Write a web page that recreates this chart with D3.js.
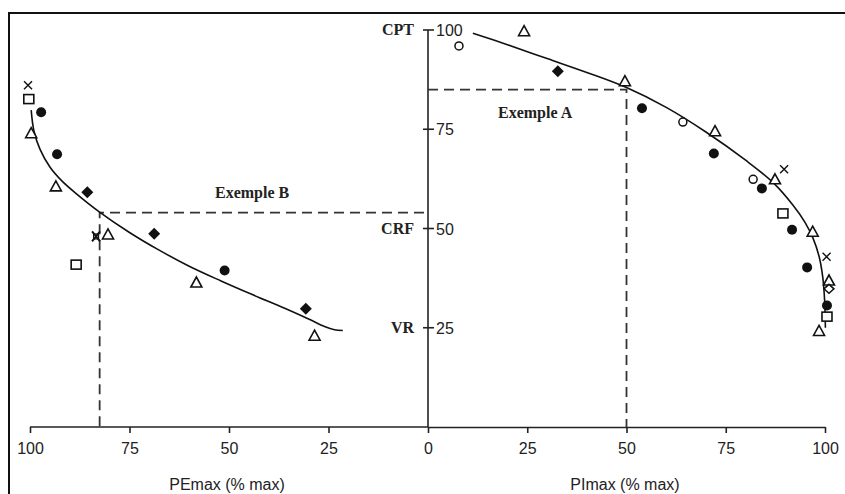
<!DOCTYPE html>
<html>
<head>
<meta charset="utf-8">
<script src="https://cdn.jsdelivr.net/npm/d3@7/dist/d3.min.js"></script>
<style>
  html, body { margin: 0; padding: 0; background: #fff; }
  svg { display: block; }
  .tick-label { font-family: "Liberation Sans", Arial, sans-serif; font-size: 16px; fill: #222; }
  .axis-title { font-family: "Liberation Sans", Arial, sans-serif; font-size: 16px; fill: #222; }
  .vol-label { font-family: "Liberation Serif", "Times New Roman", serif; font-size: 16px; font-weight: bold; fill: #222; }
  .ex-label { font-family: "Liberation Serif", "Times New Roman", serif; font-size: 16px; font-weight: bold; fill: #222; }
</style>
</head>
<body>
<svg id="chart" width="845" height="494"></svg>
<script>
// Tick values
const peTicks = [100, 75, 50, 25];
const piTicks = [0, 25, 50, 75, 100];
const volTicks = [25, 50, 75, 100];
const volNames = [["CPT", 100], ["CRF", 50], ["VR", 25]];

// Expiratory pressure (PEmax %) vs lung volume (%): fitted curve
const peCurvePE  = [99.7, 99.0, 97.5, 95.0, 92.0, 88.4, 82.6, 75.0, 68.0, 60.0, 52.0, 44.0, 36.0, 30.0, 26.0, 23.5, 21.4];
const peCurveVol = [79.8, 74.5, 70.0, 65.5, 62.0, 58.8, 54.2, 49.0, 44.8, 40.5, 36.8, 33.3, 29.9, 27.2, 25.3, 24.5, 24.3];

// Inspiratory pressure (PImax %) vs lung volume (%): fitted curve
const piCurvePI  = [11.3, 20, 30, 40, 50, 60, 70, 80, 87, 92, 95, 97, 98.5, 99.4, 99.9, 100.1];
const piCurveVol = [99.2, 96.3, 92.8, 89.3, 85.5, 80.5, 74.3, 67.2, 61.5, 55.8, 51.5, 47.5, 43.0, 38.0, 32.0, 25.0];

// Individual measurements, expiratory side
const peObsPE   = [100.5, 100.3, 97.2, 99.7, 93.2, 93.5, 85.6, 83.4, 80.4, 68.8, 88.4, 58.2, 51.1, 30.7, 28.5];
const peObsVol  = [86.1, 82.6, 79.3, 74.0, 68.7, 60.6, 59.1, 48.0, 48.5, 48.7, 40.9, 36.4, 39.4, 29.8, 23.0];
const peObsKind = ["x", "square", "dot", "tri", "dot", "tri", "diamond", "xbox", "tri", "diamond", "square", "tri", "dot", "diamond", "tri"];

// Individual measurements, inspiratory side
const piObsPI   = [7.8, 24.2, 32.7, 49.6, 53.9, 64.2, 72.3, 72.0, 81.9, 84.1, 87.4, 89.7, 89.4, 91.7, 96.9, 100.4, 95.5, 101.0, 101.0, 100.5, 100.5, 98.5];
const piObsVol  = [96.0, 99.7, 89.6, 87.1, 80.3, 76.8, 74.5, 68.9, 62.4, 60.1, 62.4, 64.9, 53.8, 49.7, 49.2, 42.9, 40.2, 36.9, 34.8, 30.6, 27.8, 24.2];
const piObsKind = ["ring", "tri", "diamond", "tri", "dot", "ring", "tri", "dot", "ring", "dot", "tri", "x", "square", "dot", "tri", "x", "dot", "tri", "odiamond", "dot", "square", "tri"];

// Worked examples: [pressure %, volume %]
const exampleA = [50, 85];
const exampleB = [82.5, 54];

const svg = d3.select("#chart");

const x0 = 428;
const xPE = d3.scaleLinear().domain([0, 100]).range([x0, 30]);
const xPI = d3.scaleLinear().domain([0, 100]).range([x0, 825]);
const y = d3.scaleLinear().domain([0, 100]).range([427, 30]);

// Frame (open on the right and bottom)
svg.append("path")
  .attr("d", "M9,494 L9,13 L845,13")
  .attr("fill", "none").attr("stroke", "#111").attr("stroke-width", 2);

// Bottom axes
function styleAxis(g) {
  g.select(".domain").attr("stroke", "#222").attr("stroke-width", 1.6);
  g.selectAll(".tick line").attr("stroke", "#222").attr("stroke-width", 1.6);
  g.selectAll(".tick text").attr("class", "tick-label").attr("dy", "0.95em");
}
svg.append("g").attr("transform", `translate(0,${y(0)})`)
  .call(d3.axisBottom(xPE).tickValues(peTicks).tickSize(6).tickSizeOuter(0).tickPadding(6))
  .call(g => g.select(".domain").attr("d", `M${xPE(100)},0H${xPE(0)}`))
  .call(styleAxis);
svg.append("g").attr("transform", `translate(0,${y(0)})`)
  .call(d3.axisBottom(xPI).tickValues(piTicks).tickSize(6).tickSizeOuter(0).tickPadding(6))
  .call(styleAxis);
svg.selectAll("g text").attr("font-family", null).attr("font-size", null);

// Vertical volume axis
svg.append("line")
  .attr("x1", x0).attr("x2", x0).attr("y1", y(100)).attr("y2", y(0))
  .attr("stroke", "#222").attr("stroke-width", 1.6);
svg.selectAll(".vtick").data(volTicks).join("line")
  .attr("x1", x0 - 5).attr("x2", x0 + 6)
  .attr("y1", d => y(d)).attr("y2", d => y(d))
  .attr("stroke", "#222").attr("stroke-width", 1.6);
svg.selectAll(".vlab").data(volTicks).join("text")
  .attr("class", "tick-label")
  .attr("x", x0 + 8).attr("y", d => y(d) + 6)
  .text(d => d);
svg.selectAll(".vname").data(volNames).join("text")
  .attr("class", "vol-label").attr("text-anchor", "end")
  .attr("x", x0 - 14).attr("y", d => y(d[1]) + 5)
  .text(d => d[0]);

// Axis titles
svg.append("text").attr("class", "axis-title").attr("text-anchor", "middle")
  .attr("x", 227).attr("y", 490).text("PEmax (% max)");
svg.append("text").attr("class", "axis-title").attr("text-anchor", "middle")
  .attr("x", 625).attr("y", 490).text("PImax (% max)");

// Dashed guides for the examples
const dash = { stroke: "#333", "stroke-width": 1.8, "stroke-dasharray": "10,6", fill: "none" };
function dashed(d) {
  const p = svg.append("path").attr("d", d);
  Object.entries(dash).forEach(([k, v]) => p.attr(k, v));
}
dashed(`M${x0},${y(exampleA[1])}H${xPI(exampleA[0])}V${y(0)}`);
dashed(`M${x0 - 4},${y(exampleB[1])}H${xPE(exampleB[0])}V${y(0)}`);
svg.append("text").attr("class", "ex-label").attr("x", 498).attr("y", 118).text("Exemple A");
svg.append("text").attr("class", "ex-label").attr("x", 215).attr("y", 198).text("Exemple B");

// Fitted curves
const line = d3.line().curve(d3.curveCatmullRom.alpha(0.5));
svg.append("path")
  .attr("d", line(peCurvePE.map((p, i) => [xPE(p), y(peCurveVol[i])])))
  .attr("fill", "none").attr("stroke", "#111").attr("stroke-width", 1.6);
svg.append("path")
  .attr("d", line(piCurvePI.map((p, i) => [xPI(p), y(piCurveVol[i])])))
  .attr("fill", "none").attr("stroke", "#111").attr("stroke-width", 1.6);

// Markers
function marker(kind, cx, cy) {
  const g = svg.append("g").attr("transform", `translate(${cx},${cy})`);
  const ink = "#111";
  switch (kind) {
    case "dot":
      g.append("circle").attr("r", 5).attr("fill", ink);
      break;
    case "ring":
      g.append("circle").attr("r", 4).attr("fill", "#fff").attr("stroke", ink).attr("stroke-width", 1.5);
      break;
    case "tri":
      g.append("path").attr("d", "M0,-5.5L5.5,4.5L-5.5,4.5Z")
        .attr("fill", "#fff").attr("stroke", ink).attr("stroke-width", 1.6);
      break;
    case "square":
      g.append("rect").attr("x", -5).attr("y", -4.5).attr("width", 10).attr("height", 9)
        .attr("fill", "#fff").attr("stroke", ink).attr("stroke-width", 1.6);
      break;
    case "diamond":
      g.append("path").attr("d", "M0,-6L6,0L0,6L-6,0Z").attr("fill", ink);
      break;
    case "odiamond":
      g.append("path").attr("d", "M0,-4.5L5,0L0,4.5L-5,0Z")
        .attr("fill", "#fff").attr("stroke", ink).attr("stroke-width", 1.5);
      break;
    case "x":
      g.append("path").attr("d", "M-4,-4L4,4M4,-4L-4,4")
        .attr("stroke", ink).attr("stroke-width", 1.4);
      break;
    case "xbox":
      g.append("path").attr("d", "M-4,-5L4,5M4,-5L-4,5")
        .attr("stroke", ink).attr("stroke-width", 2);
      g.append("rect").attr("x", -2.5).attr("y", -2.5).attr("width", 5).attr("height", 5)
        .attr("fill", "none").attr("stroke", ink).attr("stroke-width", 1.2);
      break;
  }
}
peObsPE.forEach((p, i) => marker(peObsKind[i], xPE(p), y(peObsVol[i])));
piObsPI.forEach((p, i) => marker(piObsKind[i], xPI(p), y(piObsVol[i])));
</script>
</body>
</html>
